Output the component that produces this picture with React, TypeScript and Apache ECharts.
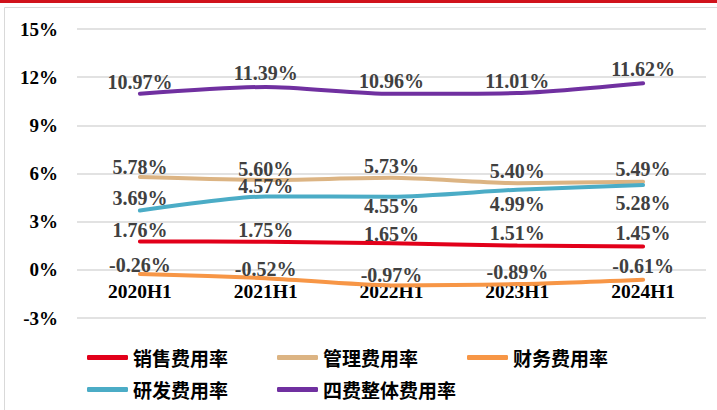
import React, { useEffect, useRef } from "react";
import * as echarts from "echarts";

const categories = ["2020H1", "2021H1", "2022H1", "2023H1", "2024H1"];
const yTicks = { min: -3, max: 15, interval: 3 };

const salesRate = [1.76, 1.75, 1.65, 1.51, 1.45];
const adminRate = [5.78, 5.6, 5.73, 5.4, 5.49];
const financeRate = [-0.26, -0.52, -0.97, -0.89, -0.61];
const rdRate = [3.69, 4.57, 4.55, 4.99, 5.28];
const totalRate = [10.97, 11.39, 10.96, 11.01, 11.62];

const seriesNames = ["销售费用率", "管理费用率", "财务费用率", "研发费用率", "四费整体费用率"];
const seriesColors = ["#E2001A", "#DCB483", "#F79646", "#4BACC6", "#7030A0"];

// label centre offsets (px, positive = above the point)
const salesLabelDy = [12, 12, 9, 13, 14];
const adminLabelDy = [10, 11, 12, 12, 13];
const financeLabelDy = [9, 9, 10, 12, 14];
const rdLabelDy = [13, 10, -9, -14, -18];
const totalLabelDy = [12, 14, 13, 12, 14];

const serif = "Liberation Serif";
const cjk = "Noto Sans CJK SC";
const LABEL_SIZE = 20;
const LABEL_HALF = LABEL_SIZE / 2;

const GRID_TOP = 29;
const GRID_BOTTOM = 92;
const PLOT_H = 410 - GRID_TOP - GRID_BOTTOM;

function buildData(values: number[], dys: number[]) {
  return values.map((v, i) => {
    const dy = dys[i];
    const above = dy >= 0;
    return {
      value: v,
      label: {
        position: above ? "top" : "bottom",
        distance: Math.abs(dy) - LABEL_HALF,
      },
    };
  });
}

export default function App() {
  const ref = useRef<HTMLDivElement>(null);
  useEffect(() => {
    if (!ref.current) return;
    const chart = echarts.init(ref.current, undefined, { renderer: "svg" });
    const allValues = [salesRate, adminRate, financeRate, rdRate, totalRate];
    const allDys = [salesLabelDy, adminLabelDy, financeLabelDy, rdLabelDy, totalLabelDy];
    const legendCommon = {
      left: 87,
      padding: 0,
      orient: "horizontal",
      icon: "roundRect",
      itemWidth: 41,
      itemHeight: 5,
      itemGap: 49,
      selectedMode: false,
      textStyle: { fontFamily: cjk, fontSize: 19, fontWeight: "bold", color: "#000" },
    };
    // move x-axis from the bottom (-3%) up to the 0% line
    const zeroOffset = -((0 - yTicks.min) / (yTicks.max - yTicks.min)) * PLOT_H;
    chart.setOption({
      animation: false,
      backgroundColor: "#fff",
      graphic: [
        { type: "rect", shape: { x: 0, y: 0, width: 717, height: 3 }, style: { fill: "#D0121B" } },
        {
          type: "rect",
          shape: { x: 4.5, y: 7.5, width: 730, height: 420 },
          style: { fill: "none", stroke: "#D9D9D9", lineWidth: 1 },
        },
      ],
      grid: { left: 77, right: 11, top: GRID_TOP, bottom: GRID_BOTTOM },
      legend: [
        { ...legendCommon, top: 348, data: seriesNames.slice(0, 3) },
        { ...legendCommon, top: 380, data: seriesNames.slice(3) },
      ],
      xAxis: {
        type: "category",
        data: categories,
        boundaryGap: true,
        position: "bottom",
        offset: zeroOffset,
        axisLine: { show: false, onZero: false },
        axisTick: { show: false },
        axisLabel: {
          margin: 12,
          color: "#000",
          fontFamily: serif,
          fontSize: 19.5,
          fontWeight: "bold",
        },
      },
      yAxis: {
        type: "value",
        min: yTicks.min,
        max: yTicks.max,
        interval: yTicks.interval,
        axisLine: { show: false },
        axisTick: { show: false },
        splitLine: { lineStyle: { color: "#D9D9D9", width: 1.5 } },
        axisLabel: {
          margin: 19,
          formatter: "{value}%",
          color: "#000",
          fontFamily: serif,
          fontSize: 19,
          fontWeight: "bold",
        },
      },
      series: seriesNames.map((name, i) => ({
        name,
        type: "line",
        symbol: "circle",
        symbolSize: 0.1,
        showSymbol: true,
        smooth: 0.25,
        color: seriesColors[i],
        itemStyle: { color: seriesColors[i] },
        lineStyle: { width: 4, color: seriesColors[i], cap: "round" },
        label: {
          show: true,
          formatter: (p: any) => p.value.toFixed(2) + "%",
          color: "#404040",
          fontFamily: serif,
          fontSize: LABEL_SIZE,
          fontWeight: "bold",
        },
        labelLayout: { hideOverlap: false },
        data: buildData(allValues[i], allDys[i]),
      })),
    });
    return () => chart.dispose();
  }, []);
  return (
    <div
      ref={ref}
      style={{ position: "absolute", left: 0, top: 0, width: 717, height: 410 }}
    />
  );
}
